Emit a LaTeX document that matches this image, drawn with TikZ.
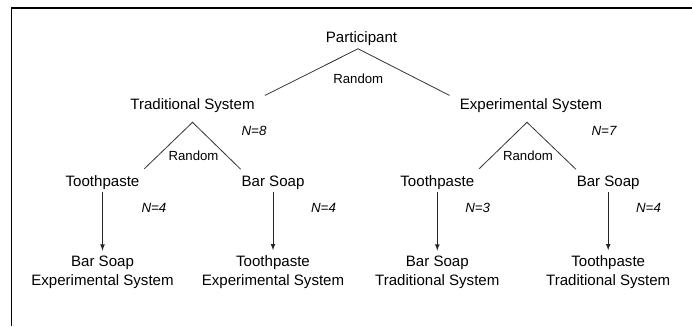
\documentclass[tikz,border=0pt]{standalone}
\usepackage{fontspec}
\setmainfont{Liberation Sans}
\usepackage{tikz}
\usetikzlibrary{arrows}

\begin{document}
\begin{tikzpicture}[x=0.75pt,y=-0.75pt,
  box/.style={draw=none,inner sep=2pt,anchor=base,align=center,font=\fontsize{11.3}{13.7}\selectfont},
  rnd/.style={draw=none,inner sep=0pt,anchor=base,font=\fontsize{9.9}{12}\selectfont},
  nval/.style={draw=none,inner sep=0pt,anchor=base,font=\fontsize{10}{12}\selectfont\itshape},
  branch/.style={draw=black!80,line width=0.6pt},
  flow/.style={draw=black!85,line width=0.6pt,-latex,shorten >=2pt}]
  %\draw[step=10,gray,very thin] (0,0) grid (692,326);
  \useasboundingbox (0,0) rectangle (692,326);
  \draw[line width=0.9pt] (11.5,326) -- (11.5,8) -- (692,8);

  \node[box] (part) at (361.5,42.7){Participant};
  \node[rnd] (rnd0) at (358.3,83.3){Random};
  \node[box] (trad) at (192.5,109.3){Traditional System};
  \node[box] (expt) at (531,109.3){Experimental System};
  \node[nval] (n8) at (254,135){N=8};
  \node[nval] (n7) at (604,135){N=7};

  \draw[branch] ([xshift=5.5pt]trad.north east) -- ([xshift=-2.6pt]part.south) -- ([xshift=-5.5pt]expt.north west);

  \node[rnd] (rnd1) at (193.5,160.7){Random};
  \node[rnd] (rnd2) at (528,160.7){Random};

  \node[box] (tp1) at (102.5,186){Toothpaste};
  \node[box] (bs1) at (273,186){Bar Soap};
  \node[box] (tp2) at (437.3,186){Toothpaste};
  \node[box] (bs2) at (608.2,186){Bar Soap};

  \draw[branch] ([xshift=1.5pt,yshift=2.5pt]tp1.north east) -- ([yshift=-5.2pt]trad.south) -- ([xshift=1.5pt,yshift=2.5pt]bs1.north west);
  \draw[branch] ([xshift=1.5pt,yshift=2.5pt]tp2.north east) -- ([xshift=-3pt,yshift=-5.2pt]expt.south) -- ([xshift=1.5pt,yshift=2.5pt]bs2.north west);

  \node[nval] (n4a) at (154,212.3){N=4};
  \node[nval] (n4b) at (323.5,212.3){N=4};
  \node[nval] (n3) at (477.7,212.3){N=3};
  \node[nval] (n4c) at (648.5,212.3){N=4};

  % base of a two-line node is its last line
  \node[box] (end1) at (102.5,285){Bar Soap\\Experimental System};
  \node[box] (end2) at (273,285){Toothpaste\\Experimental System};
  \node[box] (end3) at (437.3,285){Bar Soap\\Traditional System};
  \node[box] (end4) at (608.2,285){Toothpaste\\Traditional System};

  \draw[flow] (tp1) -- (end1);
  \draw[flow] (bs1) -- (end2);
  \draw[flow] (tp2) -- (end3);
  \draw[flow] (bs2) -- (end4);

\end{tikzpicture}
\end{document}
